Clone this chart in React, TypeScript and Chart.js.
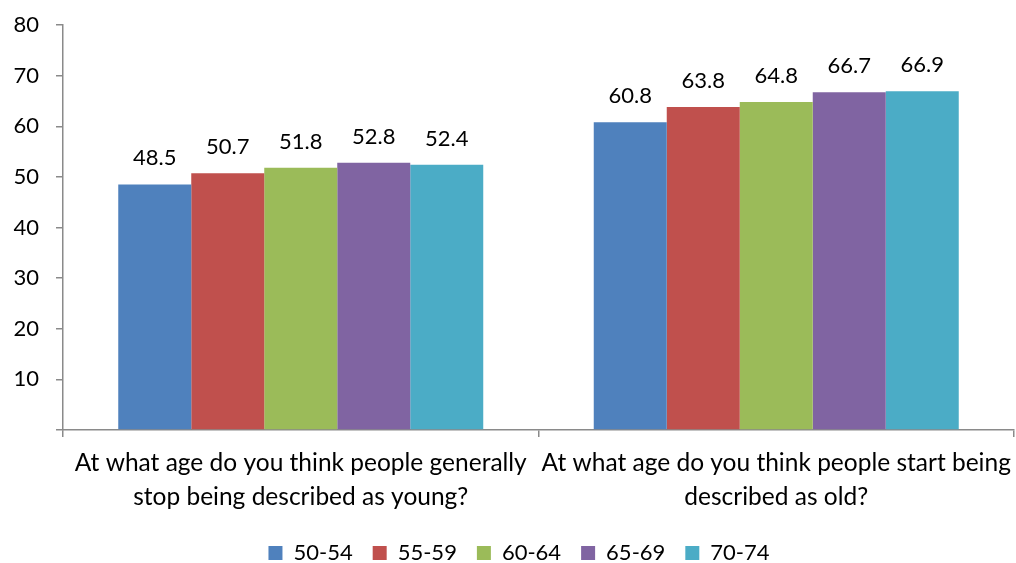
import React, { useEffect, useRef } from "react";
import { Chart, registerables } from "chart.js";

Chart.register(...registerables);

const categories: string[][] = [
  ["At what age do you think people generally", "stop being described as young?"],
  ["At what age do you think people start being", "described as old?"],
];

const ageGroups = ["50-54", "55-59", "60-64", "65-69", "70-74"];

const values5054 = [48.5, 60.8];
const values5559 = [50.7, 63.8];
const values6064 = [51.8, 64.8];
const values6569 = [52.8, 66.7];
const values7074 = [52.4, 66.9];

const seriesColors = ["#4F81BD", "#C0504D", "#9BBB59", "#8064A2", "#4BACC6"];

const yTicks = [0, 10, 20, 30, 40, 50, 60, 70, 80];

const FONT = "Lato, 'Open Sans', sans-serif";
const AXIS_COLOR = "#8a8a8a";

// Writes each bar's value just above its top edge.
const valueLabels = {
  id: "valueLabels",
  afterDatasetsDraw(chart: Chart) {
    const { ctx } = chart;
    ctx.save();
    ctx.font = `22px ${FONT}`;
    ctx.fillStyle = "#000";
    ctx.textAlign = "center";
    ctx.textBaseline = "alphabetic";
    chart.data.datasets.forEach((ds, di) => {
      const meta = chart.getDatasetMeta(di);
      meta.data.forEach((el: any, i: number) => {
        const v = ds.data[i] as number;
        ctx.fillText(v.toFixed(1), el.x, el.y - 19);
      });
    });
    ctx.restore();
  },
};

// Nudges the legend row a little to the right of the canvas centre.
const legendShift = {
  id: "legendShift",
  afterLayout(chart: any) {
    const lg = chart.legend;
    if (!lg) return;
    lg.left += 12;
    lg.right += 12;
  },
};

export default function App() {
  const canvasRef = useRef<HTMLCanvasElement | null>(null);

  useEffect(() => {
    if (!canvasRef.current) return;
    const seriesValues = [values5054, values5559, values6064, values6569, values7074];
    const chart = new Chart(canvasRef.current, {
      type: "bar",
      data: {
        labels: categories,
        datasets: ageGroups.map((name, i) => ({
          label: name,
          data: seriesValues[i],
          backgroundColor: seriesColors[i],
          borderWidth: 0,
          barPercentage: 1,
          categoryPercentage: 0.7676,
        })),
      },
      options: {
        responsive: false,
        animation: false,
        layout: { padding: { top: 25, right: 2, left: 0, bottom: -11 } },
        plugins: {
          tooltip: { enabled: false },
          legend: {
            position: "bottom",
            labels: {
              boxWidth: 14,
              boxHeight: 14,
              padding: 20,
              color: "#000",
              font: { family: FONT, size: 22 },
            },
          },
        },
        scales: {
          x: {
            grid: {
              drawOnChartArea: false,
              drawTicks: true,
              tickLength: 7,
              color: AXIS_COLOR,
              lineWidth: 1.5,
            },
            border: { display: true, color: AXIS_COLOR, width: 1.5 },
            ticks: {
              color: "#000",
              autoSkip: false,
              maxRotation: 0,
              minRotation: 0,
              padding: 10,
              font: { family: FONT, size: 24.5, lineHeight: 1.35 },
            },
            afterFit(scale: any) {
              scale.height = 92;
              scale.paddingLeft = 0;
              scale.paddingRight = 0;
            },
          },
          y: {
            min: 0,
            max: 80,
            afterBuildTicks(scale: any) {
              scale.ticks = yTicks.map((v) => ({ value: v }));
            },
            grid: {
              drawOnChartArea: false,
              drawTicks: true,
              tickLength: 7,
              color: AXIS_COLOR,
              lineWidth: 1.5,
            },
            border: { display: true, color: AXIS_COLOR, width: 1.5 },
            ticks: {
              color: "#000",
              padding: 17,
              font: { family: FONT, size: 22 },
              callback: (v: any) => (Number(v) === 0 ? "" : String(v)),
            },
            afterFit(scale: any) {
              scale.width = 63;
              scale.paddingTop = 0;
              scale.paddingBottom = 0;
            },
          },
        },
      },
      plugins: [valueLabels, legendShift],
    });
    return () => chart.destroy();
  }, []);

  return (
    <div style={{ position: "absolute", left: 0, top: 0, width: 1016, height: 563, background: "#fff" }}>
      <canvas ref={canvasRef} width={1016} height={563} />
    </div>
  );
}
